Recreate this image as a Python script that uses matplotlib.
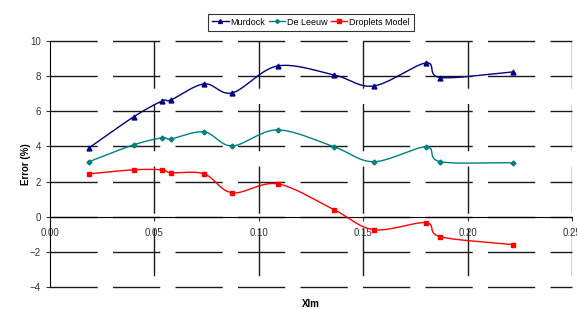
import matplotlib
matplotlib.use("Agg")
import matplotlib.pyplot as plt
import numpy as np

plt.rcParams['font.family'] = ['Liberation Sans', 'DejaVu Sans']

# Data
xlm = [0.0187, 0.040, 0.0537, 0.058, 0.0738, 0.0873, 0.109, 0.136, 0.155, 0.180, 0.187, 0.2216]
murdock = [3.92, 5.68, 6.59, 6.65, 7.56, 7.05, 8.58, 8.07, 7.44, 8.75, 7.92, 8.24]
de_leeuw = [3.13, 4.09, 4.49, 4.43, 4.83, 4.03, 4.94, 3.98, 3.13, 3.98, 3.13, 3.07]
droplets = [2.44, 2.67, 2.67, 2.50, 2.44, 1.36, 1.87, 0.40, -0.74, -0.34, -1.14, -1.59]

x_ticks = [0.00, 0.05, 0.10, 0.15, 0.20, 0.25]
x_tick_labels = ['0.00', '0.05', '0.10', '0.15', '0.20', '0.25']
y_ticks = [-4, -2, 0, 2, 4, 6, 8, 10]


def smooth(x, y, n=20):
    #Catmull-Rom spline, like Excel's smoothed line
    #-----------------------------------------------------------
    x = np.asarray(x, float)
    y = np.asarray(y, float)
    px = np.concatenate([[2 * x[0] - x[1]], x, [2 * x[-1] - x[-2]]])
    py = np.concatenate([[2 * y[0] - y[1]], y, [2 * y[-1] - y[-2]]])
    xs, ys = [], []
    t = np.linspace(0, 1, n, endpoint=False)
    for i in range(1, len(px) - 2):
        for p, out in ((px, xs), (py, ys)):
            p0, p1, p2, p3 = p[i - 1], p[i], p[i + 1], p[i + 2]
            out.extend(0.5 * ((2 * p1) + (-p0 + p2) * t
                              + (2 * p0 - 5 * p1 + 4 * p2 - p3) * t ** 2
                              + (-p0 + 3 * p1 - 3 * p2 + p3) * t ** 3))
    xs.append(x[-1])
    ys.append(y[-1])
    return np.array(xs), np.array(ys)
    #-----------------------------------------------------------


fig = plt.figure(figsize=(5.77, 3.09), dpi=100)
ax = fig.add_axes([50 / 577, 22 / 309, 522 / 577, 246 / 309])

series = [
    ('Murdock', murdock, '#000080', '^', 3.5),
    ('De Leeuw', de_leeuw, '#008080', 'D', 2.5),
    ('Droplets Model', droplets, '#FF0000', 's', 3.0),
]
for name, vals, color, marker, ms in series:
    sx, sy = smooth(xlm, vals)
    ax.plot(sx, sy, color=color, lw=1.0, zorder=3)
    ax.plot(xlm, vals, linestyle='none', marker=marker, color=color, ms=ms, zorder=4)
    ax.plot([], [], color=color, marker=marker, ms=ms, lw=1.0, label=name)

ax.set_xlim(0, 0.25)
ax.set_ylim(-4, 10)
ax.set_xticks(x_ticks)
ax.set_xticklabels(x_tick_labels)
ax.set_yticks(y_ticks)

#Dashed grid (vertical dashes start at the top like the original)
#-----------------------------------------------------------
dash = (0, (34, 11))
ax.grid(True, axis='y', color='#1a1a1a', lw=1.0, linestyle=dash)
for gl in ax.get_ygridlines():
    gl.set_clip_on(False)
for xt in x_ticks[1:]:
    ax.axvline(xt, ymin=1, ymax=0, color='#1a1a1a', lw=1.0, linestyle=dash, zorder=0.5)
ax.set_axisbelow(True)
#-----------------------------------------------------------

ax.spines['top'].set_visible(False)
ax.spines['right'].set_visible(False)
ax.spines['bottom'].set_position(('data', 0))
ax.spines['bottom'].set_color('black')
ax.spines['left'].set_color('black')
ax.tick_params(axis='both', labelsize=7, colors='#333333', length=3)
ax.tick_params(axis='x', length=3, pad=5)

ax.set_xlabel('Xlm', fontsize=7, fontweight='bold')
ax.xaxis.set_label_coords(0.5, -0.05)
ax.set_ylabel('Error (%)', fontsize=7, fontweight='bold')
ax.yaxis.set_label_coords(-0.036, 0.5)

leg = fig.legend(loc='upper center', bbox_to_anchor=(311 / 577, 1 - 9 / 309), ncol=3,
                 fontsize=6.5, frameon=True, fancybox=False, edgecolor='black',
                 handlelength=1.8, handletextpad=0.2, columnspacing=0.4,
                 borderpad=0.45, markerscale=0.8)
leg.get_frame().set_linewidth(0.8)

fig.savefig('out.png', dpi=100)
